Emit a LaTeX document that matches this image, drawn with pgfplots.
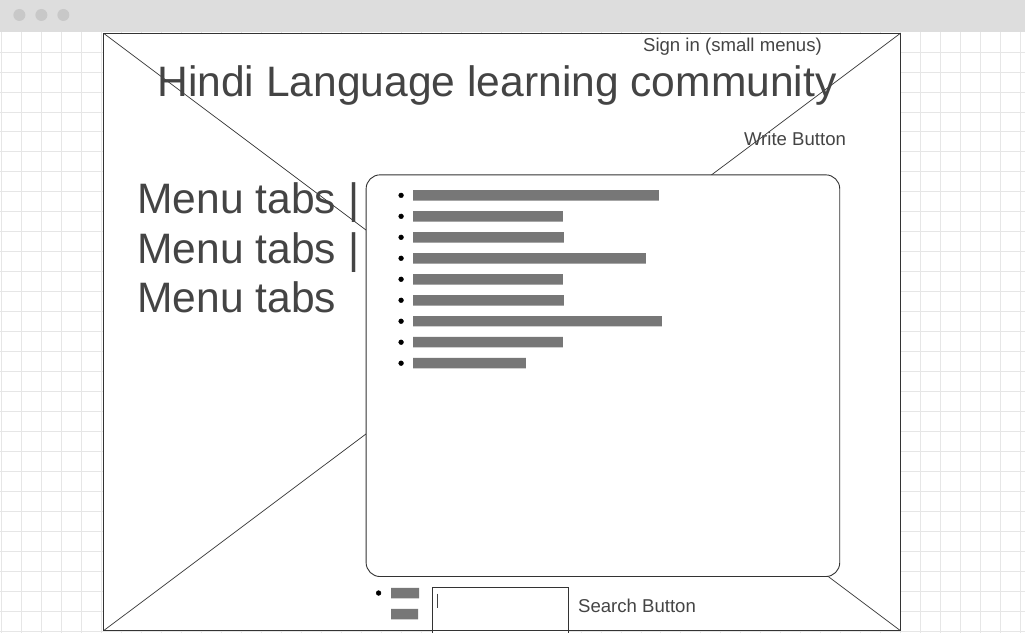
\documentclass[border=0pt]{standalone}
\usepackage{pgfplots}
\pgfplotsset{compat=1.18}
\usepackage{fontspec}
\setmainfont{Liberation Sans}
\definecolor{txt}{HTML}{444444}
\definecolor{gridc}{HTML}{E6E6E6}
\definecolor{barc}{HTML}{777777}
\definecolor{topbar}{HTML}{DDDDDD}
\definecolor{dotc}{HTML}{C8C8C8}
\definecolor{linec}{HTML}{333333}
\pgfplotsset{canvas/.style={width=1025pt,height=633pt,scale only axis,
  xmin=0,xmax=1025,ymin=0,ymax=633,y dir=reverse,hide axis,clip=false,
  at={(0,0)},anchor=south west}}
\begin{document}
\begin{tikzpicture}
\begin{scope}[x=1pt,y=-1pt,yshift=633pt]
\fill[white] (0,0) rectangle (1025,633);
\foreach \gx in {1,21,...,1021} \draw[gridc,line width=0.8pt] (\gx,32) -- (\gx,633);
\foreach \gy in {52,72,...,632} \draw[gridc,line width=0.8pt] (0,\gy) -- (1025,\gy);
\fill[topbar] (0,0) rectangle (1025,32);
\foreach \cx in {19,41,63} \fill[dotc] (\cx,15) circle[radius=6pt];
\draw[linec, fill=white, line width=0.9pt] (103.5,33.5) rectangle (900.5,631);
\draw[linec, line width=0.7pt] (103.5,33.5) -- (900.5,631) (900.5,33.5) -- (103.5,631);
\node[anchor=base west, inner sep=0, txt, font=\fontsize{18.6}{22}\selectfont] at (643,51.5) {Sign in (small menus)};
\node[anchor=base west, inner sep=0, txt, font=\fontsize{42.6}{50}\selectfont] at (157,96.7) {Hindi Language learning community};
\node[anchor=base west, inner sep=0, txt, font=\fontsize{18.6}{22}\selectfont] at (744,145.5) {Write Button};
\node[anchor=base west, inner sep=0, txt, font=\fontsize{42.6}{50}\selectfont] at (137,213.5) {Menu tabs |};
\node[anchor=base west, inner sep=0, txt, font=\fontsize{42.6}{50}\selectfont] at (137,263.5) {Menu tabs |};
\node[anchor=base west, inner sep=0, txt, font=\fontsize{42.6}{50}\selectfont] at (137,313) {Menu tabs};
\draw[linec, fill=white, rounded corners=14pt, line width=0.9pt] (366,175) rectangle (840,577);
\fill[white] (432.5,587.5) rectangle (568.5,633);
\draw[linec, line width=0.9pt] (432.5,633) -- (432.5,587.5) -- (568.5,587.5) -- (568.5,633);
\draw[linec, line width=0.9pt] (103.5,631) -- (900.5,631);
\draw[txt, line width=1pt] (437.5,594) -- (437.5,608);
\node[anchor=base west, inner sep=0, txt, font=\fontsize{18.6}{22}\selectfont] at (578,613.3) {Search Button};
\end{scope}
\begin{axis}[canvas]
\addplot[only marks, mark=*, mark size=2.4pt, black] coordinates {
(401,195.5) (401,216.5) (401,237.5) (401,258.5) (401,279.5) (401,300.5) (401,321.5) (401,342.5) (401,363.5) (378.5,593.5)};
\end{axis}
\begin{axis}[canvas, xbar stacked, bar width=10.5pt]
\addplot[draw=none, fill=none] coordinates {
(413,195.5) (413,216.5) (413,237.5) (413,258.5) (413,279.5) (413,300.5) (413,321.5) (413,342.5) (413,363.5) (391,593.5) (391,614.5)};
\addplot[draw=none, fill=barc] coordinates {
(246,195.5) (150,216.5) (151,237.5) (233,258.5) (150,279.5) (151,300.5) (249,321.5) (150,342.5) (113,363.5) (28,593.5) (27,614.5)};
\end{axis}
\end{tikzpicture}
\end{document}
